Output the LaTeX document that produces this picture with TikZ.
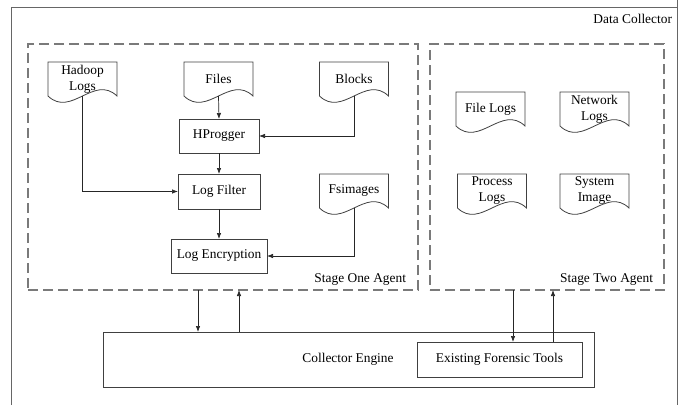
\documentclass[tikz,border=0pt]{standalone}
\usepackage{fontspec}
\setmainfont{Liberation Serif}
\usetikzlibrary{arrows.meta,calc}
\tikzset{
  every node/.style={font=\fontsize{13.4}{16}\selectfont, outer sep=0pt, inner sep=0pt, text=black},
  boxline/.style={draw=black!75, line width=0.8pt},
  procbox/.style={boxline, minimum height=34pt, align=center},
  docnode/.style={minimum width=69pt, minimum height=34pt, align=center},
  docline/.style={draw=black!75, line width=0.8pt},
  stagebox/.style={draw=black!52, line width=1.1pt, dash pattern=on 10pt off 5pt, minimum height=246pt},
  arr/.style={draw=black!85, line width=0.7pt, -{Latex[length=6pt,width=4.5pt]}},
}
\newcommand\docoutline[1]{\draw[docline] (#1.south west) -- (#1.north west) -- (#1.north east) -- (#1.south east) .. controls ($(#1.south east)+(-23,-22)$) and ($(#1.south west)+(23,22)$) .. (#1.south west) -- cycle;}
\begin{document}
\begin{tikzpicture}[x=1pt,y=-1pt]
\useasboundingbox (0,0) rectangle (683,405);
% outer frame (open at the bottom)
\draw[draw=black!60, line width=1pt] (11,405) -- (11,7) -- (677,7);
\draw[draw=black!60, line width=1pt] (677,0) -- (677,405);
\node[anchor=east] (dc) at (672,19) {Data Collector};
% stage boxes
\node[stagebox, minimum width=390pt] (stage1) at (223,167) {};
\node[stagebox, minimum width=234pt] (stage2) at (547,167) {};
\node[anchor=east] (s1label) at (406,280) {Stage One Agent};
\node[anchor=east] (s2label) at (653,280) {Stage Two Agent};
% stage one
\node[docnode] (hadoop) at (82.5,79) {Hadoop\\Logs};
\node[docnode] (files) at (218.5,79) {Files};
\node[docnode] (blocks) at (354,79) {Blocks};
\node[docnode] (fsimages) at (354,191) {Fsimages};
\docoutline{hadoop}
\docoutline{files}
\docoutline{blocks}
\docoutline{fsimages}
\node[procbox, minimum width=80pt] (hprog) at (219,136) {HProgger};
\node[procbox, minimum width=82pt, minimum height=35pt] (filter) at (219,191.5) {Log Filter};
\node[procbox, minimum width=96pt] (enc) at (219,256) {Log Encryption};
\draw[arr] (files.south) -- (hprog.north);
\draw[arr] (blocks.south) |- (hprog.east);
\draw[arr] (hprog.south) -- (filter.north);
\draw[arr] (hadoop.south) |- (filter.west);
\draw[arr] (filter.south) -- (enc.north);
\draw[arr] (fsimages.south) |- (enc.east);
% stage two
\node[docnode] (filelogs) at (490.5,109) {File Logs};
\node[docnode] (netlogs) at (594.5,109) {Network\\Logs};
\node[docnode] (proclogs) at (492,191) {Process\\Logs};
\node[docnode] (sysimage) at (594.5,191) {System\\Image};
\docoutline{filelogs}
\docoutline{netlogs}
\docoutline{proclogs}
\docoutline{sysimage}
% collector engine
\node[boxline, minimum width=491pt, minimum height=55pt] (engine) at (348.5,359.5) {};
\node (engtext) at (348,359) {Collector Engine};
\node[boxline, minimum width=165pt, minimum height=35pt] (eft) at (499.5,359.5) {Existing Forensic Tools};
\coordinate (c1) at (198,0);
\coordinate (c2) at (239,0);
\coordinate (c3) at (513,0);
\coordinate (c4) at (553,0);
\draw[arr] (stage1.south -| c1) -- (engine.north -| c1);
\draw[arr] (engine.north -| c2) -- (stage1.south -| c2);
\draw[arr] (stage2.south -| c3) -- (eft.north -| c3);
\draw[arr] (eft.north -| c4) -- (stage2.south -| c4);
\end{tikzpicture}
\end{document}
